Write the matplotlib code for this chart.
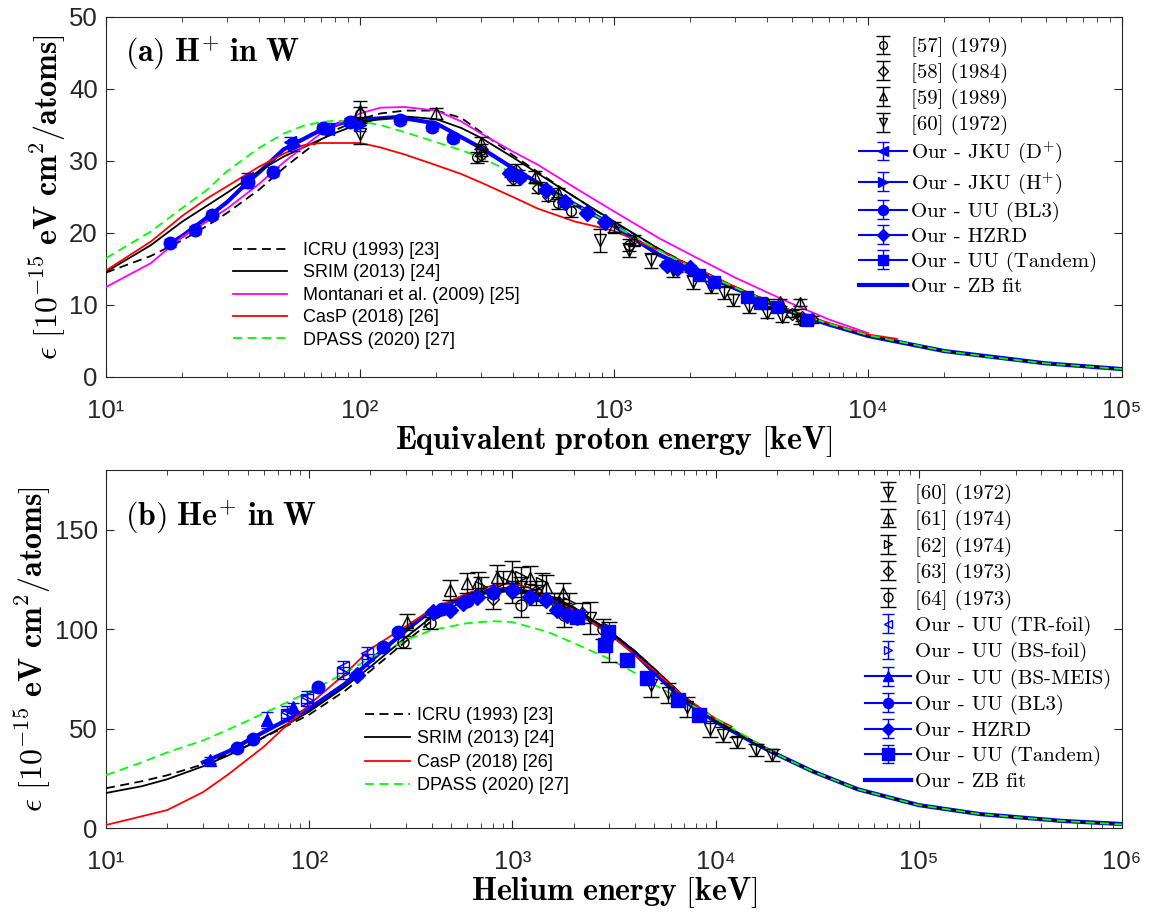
import matplotlib.pyplot as plt
from matplotlib.legend_handler import HandlerErrorbar
from matplotlib.lines import Line2D

plt.rcParams['mathtext.fontset'] = 'cm'
plt.rcParams['font.family'] = ['Liberation Sans', 'DejaVu Sans']
plt.rcParams['axes.unicode_minus'] = False

# ---------------- (a) H+ in W : theory curves ----------------
E_a = [10, 15, 20, 25, 30, 40, 50, 60, 70, 80, 100, 120, 150, 200, 250, 300, 400, 500,
       700, 1000, 1500, 2000, 3000, 5000, 7000, 10000, 20000, 30000, 50000, 70000, 100000]
icru_a = [14.5, 16.8, 19.0, 21.0, 22.8, 26.0, 29.0, 31.2, 33.0, 34.3, 35.8, 36.6, 37.0, 37.0, 36.0, 34.0, 30.8, 28.5,
          25.0, 21.5, 17.8, 15.5, 12.5, 9.2, 7.4, 5.8, 3.6, 2.8, 1.9, 1.5, 1.1]
srim_a = [14.6, 18.3, 21.6, 23.8, 25.6, 28.6, 30.6, 31.9, 33.0, 33.9, 35.2, 35.9, 36.2, 35.8, 34.6, 33.2, 30.5, 28.3,
          25.0, 21.6, 17.8, 15.4, 12.4, 9.1, 7.4, 5.7, 3.6, 2.8, 1.9, 1.5, 1.1]
dpass_a = [16.5, 20.2, 23.5, 26.0, 28.6, 31.8, 33.8, 34.9, 35.4, 35.6, 35.5, 35.0, 34.0, 32.6, 31.5, 30.5, 28.3, 26.6,
           24.0, 21.0, 17.6, 15.3, 12.4, 9.1, 7.4, 5.8, 3.6, 2.8, 1.9, 1.5, 1.1]
E_mont = [10, 15, 20, 25, 30, 40, 50, 60, 70, 80, 100, 120, 150, 200, 250, 300, 400, 500,
          700, 1000, 1500, 2000, 3000, 5000, 7000, 10000]
mont_a = [12.5, 15.8, 19.5, 21.6, 23.4, 26.8, 29.8, 32.0, 33.8, 35.0, 36.6, 37.4, 37.5, 37.0, 35.5, 33.8, 31.3, 29.5,
          26.3, 23.0, 19.3, 17.0, 13.8, 10.2, 8.0, 6.1]
E_casp_a = [10, 15, 20, 25, 30, 40, 50, 60, 70, 80, 100, 120, 150, 200, 250, 300, 400, 500,
            700, 1000, 1500, 2000, 3000, 5000, 7000, 10000, 13000]
casp_a = [14.8, 18.8, 22.4, 24.8, 26.5, 29.2, 31.0, 32.2, 32.5, 32.5, 32.5, 31.9, 30.9, 29.4, 28.2, 27.0, 25.0, 23.4,
          21.6, 20.3, 17.6, 15.5, 12.5, 9.2, 7.5, 5.9, 5.3]
E_zb_a = [18, 20, 26, 30, 36, 40, 50, 70, 90, 140, 200, 300, 400, 500, 700, 1000, 1500, 2000,
          3000, 5000, 7000, 10000, 20000, 50000, 100000]
zb_a = [18.6, 19.6, 22.6, 24.3, 27.0, 28.4, 31.6, 34.3, 35.6, 36.1, 35.2, 31.8, 29.0, 27.0, 24.0, 21.0, 17.0, 15.0,
        12.3, 9.0, 7.3, 5.7, 3.6, 1.9, 1.1]

# (a) literature data
E57 = [100, 290, 300, 420, 600, 680, 1150]
y57 = [36.5, 30.5, 31.5, 28.0, 24.2, 23.0, 18.3]
e57 = [1.0, 0.8, 0.8, 0.8, 0.8, 0.8, 0.8]
E58 = [300, 400, 410, 500, 550, 5000, 5500, 6000]
y58 = [30.8, 27.5, 28.8, 26.3, 25.2, 8.8, 8.3, 8.0]
e58 = [0.8, 0.8, 0.8, 0.8, 0.8, 0.5, 0.5, 0.5]
E59 = [100, 200, 300, 490, 600, 1000, 1200, 4000, 4500, 5400]
y59 = [37.0, 36.6, 32.5, 27.8, 25.5, 20.8, 19.0, 10.3, 10.4, 10.3]
e59 = [1.3, 0.8, 0.8, 0.8, 0.8, 0.7, 0.7, 0.5, 0.5, 0.5]
E60a = [100, 880, 1150, 1400, 1700, 2050, 2400, 2700, 2950, 3400, 4000, 4600, 5400]
y60a = [33.8, 19.0, 17.6, 16.2, 14.9, 13.2, 12.5, 11.7, 10.7, 9.7, 8.9, 8.3, 7.9]
e60a = [1.5, 1.6, 1.0, 1.0, 1.0, 1.0, 0.9, 0.9, 0.8, 0.8, 0.7, 0.7, 0.6]

# (a) our data
E_jd = [36, 53, 75]
y_jd = [27.6, 32.6, 34.5]
E_jh = [36, 55, 100]
y_jh = [27.0, 32.2, 35.0]
E_bl3a = [17.9, 22.4, 26.1, 36.2, 45.4, 71.3, 91.3, 144, 192, 233]
y_bl3a = [18.6, 20.4, 22.5, 27.1, 28.5, 34.6, 35.4, 35.7, 34.7, 33.2]
E_hza = [390, 427, 540, 640, 780, 920, 1610, 1770, 2000]
y_hza = [28.3, 27.8, 26.0, 24.3, 22.8, 21.5, 15.6, 15.1, 15.1]
E_tna = [2170, 2470, 3330, 3750, 4370, 5760]
y_tna = [14.2, 13.2, 11.1, 10.3, 9.7, 7.9]

# ---------------- (b) He+ in W ----------------
E_b = [10, 15, 20, 30, 40, 50, 70, 100, 150, 200, 300, 400, 600, 800, 1000, 1500, 2000, 3000,
       4000, 5000, 7000, 10000, 20000, 30000, 50000, 100000, 200000, 500000, 1000000]
icru_b = [20.0, 23.5, 26.5, 32.0, 37.0, 41.5, 49.0, 57.0, 69.0, 79.0, 94.0, 104.0, 114.0, 118.0, 119.5, 117.0, 111.0, 99.0,
          89.0, 80.0, 66.0, 54.0, 37.0, 28.5, 19.5, 11.5, 7.0, 3.6, 2.0]
srim_b = [17.6, 21.0, 24.5, 31.0, 36.5, 41.5, 49.5, 58.5, 71.0, 81.0, 96.0, 106.0, 115.0, 119.0, 120.0, 117.0, 111.0, 99.0,
          89.0, 80.0, 66.0, 54.0, 37.0, 28.5, 19.5, 11.5, 7.0, 3.6, 2.0]
dpass_b = [26.6, 33.0, 38.0, 44.0, 49.5, 54.0, 61.0, 68.5, 78.0, 85.5, 94.5, 99.5, 103.0, 104.0, 103.5, 98.5, 93.0, 85.0,
           78.0, 72.0, 64.0, 55.0, 37.0, 28.5, 19.5, 11.5, 7.0, 3.6, 1.8]
E_casp_b = [10, 20, 30, 40, 60, 80, 100, 150, 200, 300, 400, 600, 800, 1000, 1200, 1500, 2000, 3000,
            4000, 5000, 7000, 10000, 12000]
casp_b = [1.5, 9.0, 18.0, 27.0, 41.0, 53.0, 62.0, 77.5, 90.0, 101.5, 110.0, 118.0, 122.0, 123.0, 121.0, 116.0, 109.5, 97.5,
          87.0, 79.0, 66.0, 55.0, 51.0]
E_zb_b = [30, 40, 50, 70, 100, 150, 200, 300, 400, 600, 800, 1000, 1500, 2000, 3000, 4000, 5000, 7000,
          10000, 15000, 20000, 30000, 50000, 100000, 200000, 500000, 1000000]
zb_b = [33.0, 38.5, 44.0, 52.0, 60.0, 72.5, 84.0, 99.5, 109.5, 116.5, 119.5, 120.5, 116.0, 109.5, 98.5, 88.0, 78.0, 64.0,
        53.5, 43.5, 37.0, 28.5, 19.5, 11.5, 7.0, 3.6, 2.0]

E60b = [1100, 1300, 1600, 2420, 3000, 4800, 5800, 7200, 9400, 10900, 12700, 15800, 19000]
y60b = [121, 117, 113, 105.5, 93.5, 72, 68, 61, 50, 47, 43, 39, 36.7]
e60b = [5, 5, 5, 8, 10, 6, 5, 5, 4, 4, 3, 3, 3]
E61 = [302, 495, 600, 680, 840, 1000, 1220, 1470, 1780]
y61 = [103.5, 119.6, 123, 123.6, 126, 127, 125.6, 121, 118]
e61 = [4, 5, 5, 5, 6, 7, 6, 6, 5]
E62 = [700, 900, 1100, 1400, 1900]
y62 = [121, 124, 126, 123, 113]
e62 = [5, 5, 5, 5, 5]
E63 = [800, 1000, 1300, 1700, 2200]
y63 = [115, 118, 119, 113, 108]
e63 = [5, 5, 5, 5, 5]
E64 = [290, 394, 1100, 1800, 2800]
y64 = [93.5, 103, 112, 107, 100]
e64 = [3, 3, 6, 6, 5]

E_tr = [78, 97, 147, 192]
y_tr = [58.3, 65.8, 81.0, 88.0]
E_bs = [78, 97, 147, 195]
y_bs = [57.0, 64.3, 78.0, 84.4]
E_meis = [32.5, 62, 83]
y_meis = [34.0, 54.3, 60.8]
e_meis = [1.5, 4.0, 2.0]
E_bl3b = [44, 53, 110, 230, 273, 450, 600, 800]
y_bl3b = [40.2, 45.0, 71.0, 91.0, 98.5, 110, 114, 118]
E_hzb = [172, 405, 495, 570, 670, 800, 1000, 1220, 1470, 1660, 1860, 2080]
y_hzb = [77.0, 108.5, 109.5, 113.0, 116.0, 118.6, 119.6, 116.0, 114.6, 109.5, 107.0, 106.0]
E_tnb = [2080, 2850, 2950, 3650, 4600, 6550, 8300]
y_tnb = [106.0, 92.0, 98.5, 84.4, 75.4, 64.3, 56.8]


def show_line(h, orig):
    h.update_from(orig)
    if isinstance(h, Line2D):
        h.set_linestyle('-')
        h.set_linewidth(1.5)


def ebar(ax, x, y, err, mk, col, filled=True, ms=8, cs=5):
    return ax.errorbar(x, y, yerr=err, fmt=mk, ls='none', color=col,
                       mfc=col if filled else 'none', mec=col, ms=ms,
                       capsize=cs, elinewidth=1, capthick=1, zorder=4)


def style(ax, xmax, ymax, yticks, xlabel):
    ax.set_xscale('log')
    ax.set_xlim(10, xmax)
    ax.set_ylim(0, ymax)
    sup = {1: '\u00b9', 2: '\u00b2', 3: '\u00b3', 4: '\u2074', 5: '\u2075', 6: '\u2076'}
    ticks = [10 ** k for k in range(1, 7) if 10 ** k <= xmax]
    ax.set_xticks(ticks, ['10' + sup[k] for k in range(1, len(ticks) + 1)])
    ax.set_yticks(yticks)
    ax.tick_params(direction='in', top=True, right=True, labelsize=18.5, colors='#262626',
                   length=6, width=0.8)
    ax.tick_params(axis='x', pad=16)
    ax.tick_params(axis='y', pad=6)
    ax.tick_params(which='minor', direction='in', top=True, length=3.5, width=0.6, colors='#262626')
    for s in ax.spines.values():
        s.set_color('#262626')
        s.set_linewidth(0.8)
    ax.set_xlabel(xlabel, fontsize=23, labelpad=1)
    ax.set_ylabel(r'$\epsilon\ \mathbf{[10^{-15}\ eV\ cm^{2}/atoms]}$', fontsize=23, labelpad=1)


fig = plt.figure(figsize=(11.5, 9.17), dpi=100)
ax1 = fig.add_axes([106 / 1150, 1 - 377 / 917, 1016 / 1150, 360 / 917])
ax2 = fig.add_axes([106 / 1150, 1 - 828 / 917, 1016 / 1150, 358 / 917])
hl = HandlerErrorbar(update_func=show_line, yerr_size=0.45)
hk = HandlerErrorbar(yerr_size=0.45)

# ---- panel (a)
ax1.plot(E_zb_a, zb_a, color='b', lw=3, zorder=2)
t1 = ax1.plot(E_a, icru_a, 'k--', lw=1.3, dashes=(5, 3), zorder=3, label='ICRU (1993) [23]')[0]
t2 = ax1.plot(E_a, srim_a, 'k-', lw=1.3, zorder=3, label='SRIM (2013) [24]')[0]
t3 = ax1.plot(E_mont, mont_a, color='#ff00ff', lw=1.3, zorder=3, label='Montanari et al. (2009) [25]')[0]
t4 = ax1.plot(E_casp_a, casp_a, color='#ff0000', lw=1.3, zorder=3, label='CasP (2018) [26]')[0]
t5 = ax1.plot(E_a, dpass_a, color='#00ff00', ls='--', dashes=(5, 3), lw=1.3, zorder=3, label='DPASS (2020) [27]')[0]
leg1 = ax1.legend(handles=[t1, t2, t3, t4, t5], loc='upper left', bbox_to_anchor=(0.125, 0.375),
                  frameon=False, borderpad=0, borderaxespad=0, fontsize=13,
                  handlelength=3.0, handletextpad=0.9, labelspacing=0.3)
ax1.add_artist(leg1)

d57 = ebar(ax1, E57, y57, e57, 'o', 'k', False, ms=7)
d58 = ebar(ax1, E58, y58, e58, 'D', 'k', False, ms=6)
d59 = ebar(ax1, E59, y59, e59, '^', 'k', False, ms=8)
d60 = ebar(ax1, E60a, y60a, e60a, 'v', 'k', False, ms=8)
b1 = ebar(ax1, E_jd, y_jd, [0.8] * len(E_jd), '<', 'b', ms=9, cs=4)
b2 = ebar(ax1, E_jh, y_jh, [0.8] * len(E_jh), '>', 'b', ms=9, cs=4)
b3 = ebar(ax1, E_bl3a, y_bl3a, [0.6] * len(E_bl3a), 'o', 'b', ms=9, cs=4)
b4 = ebar(ax1, E_hza, y_hza, [0.5] * len(E_hza), 'D', 'b', ms=8, cs=4)
b5 = ebar(ax1, E_tna, y_tna, [0.5] * len(E_tna), 's', 'b', ms=9, cs=4)
zbh1 = Line2D([], [], color='b', lw=3)
ax1.legend([d57, d58, d59, d60, b1, b2, b3, b4, b5, zbh1],
           ['[57] (1979)', '[58] (1984)', '[59] (1989)', '[60] (1972)',
            r'Our - JKU (D$^{+}$)', r'Our - JKU (H$^{+}$)', 'Our - UU (BL3)', 'Our - HZRD',
            'Our - UU (Tandem)', 'Our - ZB fit'],
           handler_map={d57: hk, d58: hk, d59: hk, d60: hk,
                        b1: hl, b2: hl, b3: hl, b4: hl, b5: hl},
           loc='upper left', bbox_to_anchor=(0.741, 0.944), frameon=False, borderpad=0,
           borderaxespad=0, prop={'family': 'cmr10', 'size': 15}, handlelength=2.3,
           handletextpad=0.2, labelspacing=0.27, markerscale=0.8)
ax1.text(0.019, 0.9, r'$\mathbf{(a)\ H^{+}\ in\ W}$', transform=ax1.transAxes,
         fontsize=23, va='center', ha='left')
style(ax1, 1e5, 50, [0, 10, 20, 30, 40, 50], r'$\mathbf{Equivalent\ proton\ energy\ [keV]}$')

# ---- panel (b)
ax2.plot(E_zb_b, zb_b, color='b', lw=3, zorder=2)
s1 = ax2.plot(E_b, icru_b, 'k--', lw=1.3, dashes=(5, 3), zorder=3, label='ICRU (1993) [23]')[0]
s2 = ax2.plot(E_b, srim_b, 'k-', lw=1.3, zorder=3, label='SRIM (2013) [24]')[0]
s3 = ax2.plot(E_casp_b, casp_b, color='#ff0000', lw=1.3, zorder=3, label='CasP (2018) [26]')[0]
s4 = ax2.plot(E_b, dpass_b, color='#00ff00', ls='--', dashes=(5, 3), lw=1.3, zorder=3, label='DPASS (2020) [27]')[0]
leg2 = ax2.legend(handles=[s1, s2, s3, s4], loc='upper left', bbox_to_anchor=(0.255, 0.338),
                  frameon=False, borderpad=0, borderaxespad=0, fontsize=13,
                  handlelength=2.5, handletextpad=0.4, labelspacing=0.36)
ax2.add_artist(leg2)

c60 = ebar(ax2, E60b, y60b, e60b, 'v', 'k', False, ms=9, cs=6)
c61 = ebar(ax2, E61, y61, e61, '^', 'k', False, ms=9, cs=6)
c62 = ebar(ax2, E62, y62, e62, '>', 'k', False, ms=8, cs=6)
c63 = ebar(ax2, E63, y63, e63, 'D', 'k', False, ms=6, cs=6)
c64 = ebar(ax2, E64, y64, e64, 'o', 'k', False, ms=8, cs=6)
g1 = ebar(ax2, E_tr, y_tr, [3] * len(E_tr), '<', 'b', False, ms=8, cs=4)
g2 = ebar(ax2, E_bs, y_bs, [3] * len(E_bs), '>', 'b', False, ms=8, cs=4)
g3 = ebar(ax2, E_meis, y_meis, e_meis, '^', 'b', ms=9, cs=4)
g4 = ebar(ax2, E_bl3b, y_bl3b, [1.5] * len(E_bl3b), 'o', 'b', ms=9, cs=4)
g5 = ebar(ax2, E_hzb, y_hzb, [1.5] * len(E_hzb), 'D', 'b', ms=8, cs=4)
g6 = ebar(ax2, E_tnb, y_tnb, [1.5] * len(E_tnb), 's', 'b', ms=10, cs=4)
zbh2 = Line2D([], [], color='b', lw=3)
ax2.legend([c60, c61, c62, c63, c64, g1, g2, g3, g4, g5, g6, zbh2],
           ['[60] (1972)', '[61] (1974)', '[62] (1974)', '[63] (1973)', '[64] (1973)',
            'Our - UU (TR-foil)', 'Our - UU (BS-foil)', 'Our - UU (BS-MEIS)', 'Our - UU (BL3)',
            'Our - HZRD', 'Our - UU (Tandem)', 'Our - ZB fit'],
           handler_map={c60: hk, c61: hk, c62: hk, c63: hk, c64: hk, g1: hk, g2: hk,
                        g3: hl, g4: hl, g5: hl, g6: hl},
           loc='upper left', bbox_to_anchor=(0.747, 0.961), frameon=False, borderpad=0,
           borderaxespad=0, prop={'family': 'cmr10', 'size': 15}, handlelength=2.2,
           handletextpad=0.2, labelspacing=0.3, markerscale=0.8)
ax2.text(0.019, 0.868, r'$\mathbf{(b)\ He^{+}\ in\ W}$', transform=ax2.transAxes,
         fontsize=23, va='center', ha='left')
style(ax2, 1e6, 180, [0, 50, 100, 150], r'$\mathbf{Helium\ energy\ [keV]}$')

fig.savefig('out.png', dpi=100)
